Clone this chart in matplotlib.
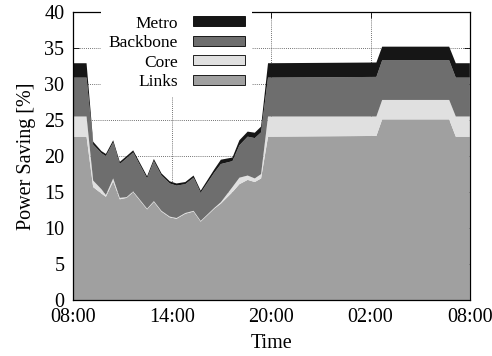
import numpy as np
import matplotlib
matplotlib.use("Agg")
import matplotlib.pyplot as plt

# -----------------------
# Data (hours after 08:00, cumulative tops)
# -----------------------

hours = [0, 0.83, 1.23, 1.73, 2.0, 2.44, 2.84, 3.25, 3.65, 4.49, 4.9, 5.36,
         5.86, 6.27, 6.8, 7.3, 7.73, 8.55, 8.95, 9.65, 10.07, 10.57, 11.0,
         11.38, 11.8, 18.35, 18.7, 22.75, 23.15, 24]

links_top = [22.7, 22.7, 15.7, 14.8, 14.35, 16.5, 14.0, 14.2, 15.0, 12.6,
             13.65, 12.3, 11.5, 11.3, 12.0, 12.3, 10.9, 12.7, 13.4, 15.0,
             16.1, 16.7, 16.4, 16.9, 22.7, 22.8, 25.1, 25.1, 22.7, 22.7]

core_top = [25.5, 25.5, 16.6, 15.4, 14.6, 16.9, 14.2, 14.3, 15.1, 12.7,
            13.75, 12.4, 11.6, 11.4, 12.1, 12.4, 11.0, 12.8, 13.6, 15.7,
            17.0, 17.3, 16.9, 17.5, 25.5, 25.5, 27.8, 27.8, 25.5, 25.5]

backbone_top = [30.9, 30.9, 21.6, 20.4, 20.0, 21.9, 18.9, 19.7, 20.5, 16.9,
                19.3, 17.3, 16.2, 15.9, 16.1, 17.0, 14.9, 17.7, 18.9, 19.3,
                21.5, 22.7, 22.5, 23.3, 30.9, 31.0, 33.3, 33.3, 30.9, 30.9]

metro_top = [32.9, 32.9, 22.0, 20.7, 20.3, 22.2, 19.2, 20.0, 20.8, 17.2,
             19.6, 17.6, 16.5, 16.2, 16.4, 17.3, 15.2, 18.15, 19.5, 19.8,
             22.2, 23.4, 23.25, 24.1, 32.9, 33.0, 35.2, 35.2, 32.9, 32.9]

tick_hours = [0, 6, 12, 18, 24]
tick_labels = ["08:00", "14:00", "20:00", "02:00", "08:00"]

layer_names = ["Links", "Core", "Backbone", "Metro"]
layer_colors = ["#a0a0a0", "#e0e0e0", "#6e6e6e", "#161616"]

# -----------------------
# Layers from cumulative tops
# -----------------------

tops = np.array([links_top, core_top, backbone_top, metro_top])
layers = np.diff(np.vstack([np.zeros(len(hours)), tops]), axis=0)

# -----------------------
# Plot
# -----------------------

plt.rcParams["font.family"] = ["Liberation Serif", "DejaVu Serif"]
plt.rcParams["font.size"] = 14.5

fig = plt.figure(figsize=(4.92, 3.56), dpi=100)
ax = fig.add_axes([0.148, 0.157, 0.807, 0.809])

ax.stackplot(hours, layers, colors=layer_colors, labels=layer_names,
             linewidth=0)

ax.set_xlim(0, 24)
ax.set_ylim(0, 40)
ax.set_xticks(tick_hours)
ax.set_xticklabels(tick_labels)
ax.set_yticks(range(0, 41, 5))

ax.set_axisbelow(True)
ax.grid(True, color="#444444", linestyle=(0, (1, 1.5)), linewidth=0.6)
ax.tick_params(direction="in", length=4, width=0.6, top=True, right=True)
ax.tick_params(axis="x", pad=6)
ax.tick_params(axis="y", pad=6)
for sp in ax.spines.values():
    sp.set_linewidth(0.9)

ax.set_xlabel("Time", labelpad=5)
ax.set_ylabel("Power Saving [%]", labelpad=6)

handles = [plt.Rectangle((0, 0), 1, 1, facecolor=c, edgecolor="black",
                         linewidth=0.6) for c in layer_colors]
leg = ax.legend(handles[::-1], layer_names[::-1], loc="upper right",
                bbox_to_anchor=(0.452, 1.012), markerfirst=False,
                fontsize=12.5, handlelength=3.0, handleheight=0.5,
                handletextpad=0.9, labelspacing=0.2, borderpad=0.4,
                borderaxespad=0, frameon=True, fancybox=False, framealpha=1,
                facecolor="white", edgecolor="none")
for t in leg.get_texts():
    t.set_horizontalalignment("right")

fig.savefig("out.png", dpi=100)
